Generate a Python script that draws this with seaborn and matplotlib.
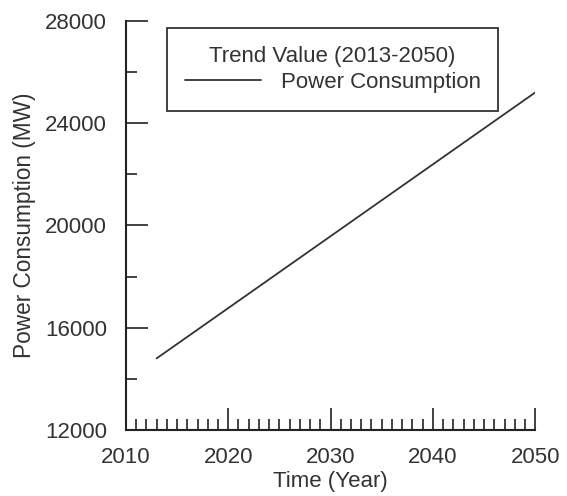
import matplotlib
matplotlib.use("Agg")
import matplotlib.pyplot as plt
from matplotlib.ticker import MultipleLocator
import seaborn as sns
import pandas as pd

# Linear trend of power consumption, 2013-2050
years = [2013, 2050]
consumption_mw = [14800, 25200]
series_label = "Power Consumption"
legend_title = "Trend Value (2013-2050)"
x_ticks = [2010, 2020, 2030, 2040, 2050]
y_ticks = [12000, 16000, 20000, 24000, 28000]

sns.set_style("ticks")
plt.rcParams["font.family"] = ["Liberation Sans", "DejaVu Sans"]
plt.rcParams["text.color"] = "#333333"
plt.rcParams["axes.labelcolor"] = "#333333"
plt.rcParams["xtick.color"] = "#333333"
plt.rcParams["ytick.color"] = "#333333"

df = pd.DataFrame({"Year": years, "MW": consumption_mw})

fig = plt.figure(figsize=(5.67, 4.96), dpi=100)
ax = fig.add_axes([0.222, 0.133, 0.722, 0.825])

sns.lineplot(data=df, x="Year", y="MW", ax=ax, color="#333333",
             linewidth=1.3, label=series_label)

ax.set_xlim(x_ticks[0], x_ticks[-1])
ax.set_ylim(y_ticks[0], y_ticks[-1])
ax.set_xticks(x_ticks)
ax.set_yticks(y_ticks)
ax.xaxis.set_minor_locator(MultipleLocator(1))
ax.yaxis.set_minor_locator(MultipleLocator(2000))

ax.tick_params(axis="both", which="major", direction="in", length=16,
               width=1.2, labelsize=16, color="#222222")
ax.tick_params(axis="x", which="major", pad=12)
ax.tick_params(axis="y", which="major", pad=13.5)
ax.tick_params(axis="both", which="minor", direction="in", length=8,
               width=1.2, color="#222222")

for side in ("top", "right"):
    ax.spines[side].set_visible(False)
for side in ("left", "bottom"):
    ax.spines[side].set_linewidth(1.5)
    ax.spines[side].set_color("#222222")

ax.set_xlabel("Time (Year)", fontsize=16)
ax.set_ylabel("Power Consumption (MW)", fontsize=16.3)
ax.xaxis.set_label_coords(0.499, -0.101)
ax.yaxis.set_label_coords(-0.22, 0.5)

leg = ax.legend(title=legend_title, loc="upper left",
                bbox_to_anchor=(0.10, 0.782, 0.81, 0.201), mode="expand",
                fontsize=16, title_fontsize=16, frameon=True, fancybox=False,
                handlelength=3.45, handletextpad=0.9, borderpad=0.8,
                labelspacing=0.25, borderaxespad=0)
leg.get_frame().set_edgecolor("#333333")
leg.get_frame().set_linewidth(1.3)
leg.get_frame().set_alpha(1)

fig.savefig("out.png", dpi=100)
